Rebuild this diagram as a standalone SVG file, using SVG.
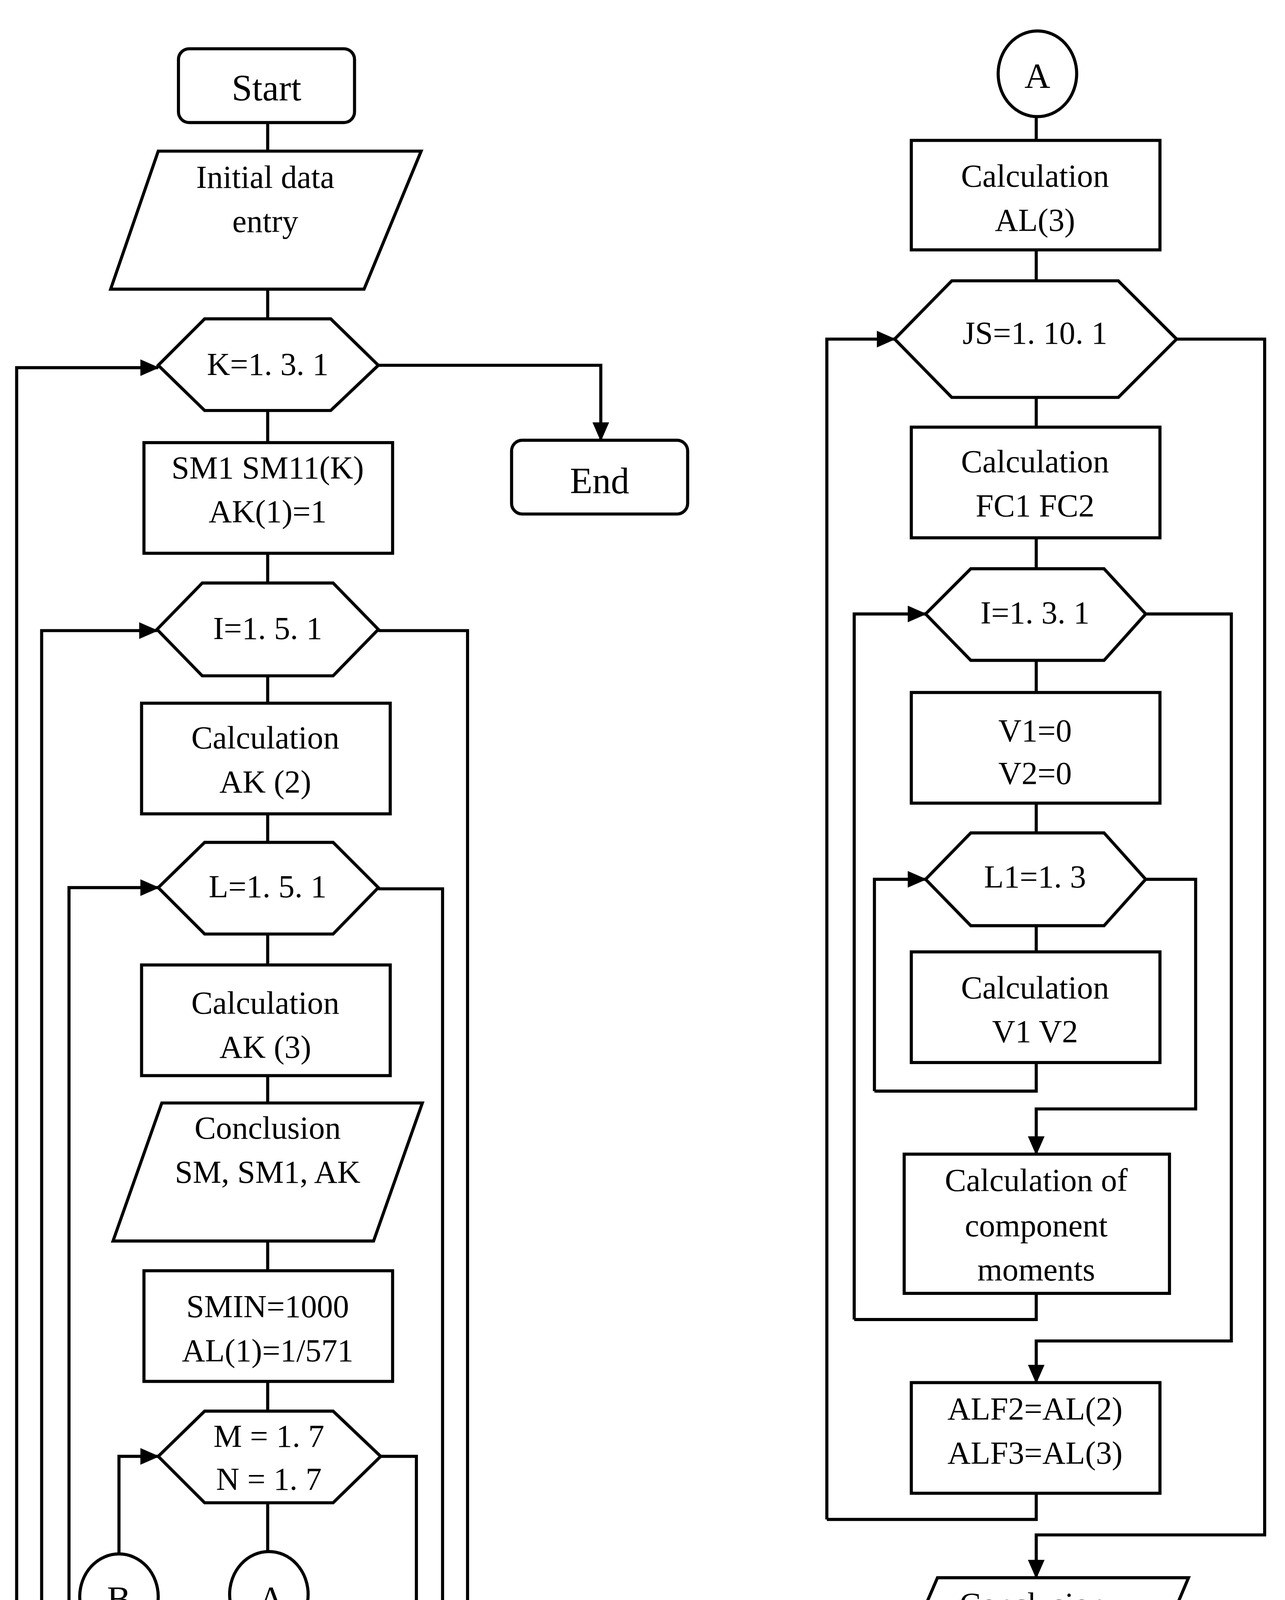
<svg xmlns="http://www.w3.org/2000/svg" width="3290" height="4790" viewBox="0 0 3290 4790">
<style>
.s{fill:#fff;stroke:#000;stroke-width:2.6;stroke-linejoin:miter}
.c{fill:none;stroke:#000;stroke-width:2.6}
.a{fill:none;stroke:#000;stroke-width:2.6;marker-end:url(#ah)}
text{font-family:"Liberation Serif","DejaVu Serif",serif;font-size:27px;fill:#000;text-anchor:middle;dominant-baseline:central}
</style>
<defs>
<marker id="ah" markerUnits="userSpaceOnUse" markerWidth="16" markerHeight="16" viewBox="0 0 16 16" refX="15" refY="8" orient="auto">
<path d="M0,1 L16,8 L0,15 Z" fill="#000"/>
</marker>
</defs>
<rect width="3290" height="4790" fill="#fff"/>
<g transform="scale(3.046)">
<g id="connectors">
<path class="c" d="M225,103V127M225,243V268M225,345V372M225,465V490M225,568V591M225,684V708M225,785V811M225,904V927M225,1043V1068M225,1161V1186M225,1263V1304"/>
<path class="a" d="M318,307H505V370"/>
<path class="a" d="M393,529H393M14,1465V309H133"/>
<path class="c" d="M14,1465H393V530H318"/>
<path class="a" d="M35,1441V530H132"/>
<path class="c" d="M35,1441H372V747H318"/>
<path class="a" d="M58,1420V746H133"/>
<path class="c" d="M58,1420H350V1224H320"/>
<path class="a" d="M100,1306V1224H133"/>
<path class="c" d="M871,97V118M871,210V236M871,334V359M871,452V478M871,555V582M871,675V700M871,778V800M871,1442V1483"/>
<path class="a" d="M695,1277V285H752"/>
<path class="c" d="M871,1255V1277H695"/>
<path class="a" d="M989,285H1063V1290H871V1326"/>
<path class="a" d="M718,1109V516H778"/>
<path class="c" d="M871,1087V1109H718"/>
<path class="a" d="M963,516H1035V1127H871V1162"/>
<path class="a" d="M735,917V739H778"/>
<path class="c" d="M871,893V917H735"/>
<path class="a" d="M963,739H1005V932H871V970"/>
</g>
<g id="start"><rect class="s" x="150" y="41" width="148" height="62" rx="9"/><text x="224" y="74" style="font-size:31px">Start</text></g>
<g id="input"><path class="s" d="M133,127H354L306,243H93Z"/><text x="223" y="149">Initial data</text><text x="223" y="186">entry</text></g>
<g id="loopK"><path class="s" d="M133,307L172,268H278L318,307L278,345H172Z"/><text x="225" y="306">K=1. 3. 1</text></g>
<g id="end"><rect class="s" x="430" y="370" width="148" height="62" rx="9"/><text x="504" y="404" style="font-size:31px">End</text></g>
<g id="sm1"><rect class="s" x="121" y="372" width="209" height="93"/><text x="225" y="393">SM1  SM11(K)</text><text x="225" y="430">AK(1)=1</text></g>
<g id="loopI"><path class="s" d="M132,529L170,490H280L318,529L280,568H170Z"/><text x="225" y="528">I=1. 5. 1</text></g>
<g id="calcAK2"><rect class="s" x="119" y="591" width="209" height="93"/><text x="223" y="620">Calculation</text><text x="223" y="657">AK (2)</text></g>
<g id="loopL"><path class="s" d="M133,746L172,708H280L318,746L280,785H172Z"/><text x="225" y="745">L=1. 5. 1</text></g>
<g id="calcAK3"><rect class="s" x="119" y="811" width="209" height="93"/><text x="223" y="843">Calculation</text><text x="223" y="880">AK (3)</text></g>
<g id="concl1"><path class="s" d="M136,927H355L314,1043H95Z"/><text x="225" y="948">Conclusion</text><text x="225" y="985">SM, SM1, AK</text></g>
<g id="smin"><rect class="s" x="121" y="1068" width="209" height="93"/><text x="225" y="1098">SMIN=1000</text><text x="225" y="1135">AL(1)=1/571</text></g>
<g id="loopM"><path class="s" d="M133,1224L172,1186H280L320,1224L280,1263H172Z"/><text x="226" y="1207">M = 1. 7</text><text x="226" y="1243">N = 1. 7</text></g>
<g id="connB1"><ellipse class="s" cx="100" cy="1342" rx="33" ry="36"/><text x="100" y="1344" style="font-size:30px">B</text></g>
<g id="connA1"><ellipse class="s" cx="226" cy="1340" rx="33" ry="36"/><text x="228" y="1344" style="font-size:30px">A</text></g>
<g id="connA2"><ellipse class="s" cx="872" cy="62" rx="33" ry="36"/><text x="872" y="64" style="font-size:30px">A</text></g>
<g id="calcAL3"><rect class="s" x="766" y="118" width="209" height="92"/><text x="870" y="148">Calculation</text><text x="870" y="185">AL(3)</text></g>
<g id="loopJS"><path class="s" d="M752,285L800,236H940L989,285L940,334H800Z"/><text x="870" y="280">JS=1. 10. 1</text></g>
<g id="calcFC"><rect class="s" x="766" y="359" width="209" height="93"/><text x="870" y="388">Calculation</text><text x="870" y="425">FC1  FC2</text></g>
<g id="loopI2"><path class="s" d="M778,516L816,478H928L963,516L928,555H816Z"/><text x="870" y="515">I=1. 3. 1</text></g>
<g id="v0"><rect class="s" x="766" y="582" width="209" height="93"/><text x="870" y="614">V1=0</text><text x="870" y="650">V2=0</text></g>
<g id="loopL1"><path class="s" d="M778,739L816,700H928L963,739L928,778H816Z"/><text x="870" y="737">L1=1. 3</text></g>
<g id="calcV"><rect class="s" x="766" y="800" width="209" height="93"/><text x="870" y="830">Calculation</text><text x="870" y="867">V1 V2</text></g>
<g id="calcMom"><rect class="s" x="760" y="970" width="223" height="117"/><text x="871" y="992">Calculation of</text><text x="871" y="1030">component</text><text x="871" y="1067">moments</text></g>
<g id="alf"><rect class="s" x="766" y="1162" width="209" height="93"/><text x="870" y="1184">ALF2=AL(2)</text><text x="870" y="1221">ALF3=AL(3)</text></g>
<g id="concl2"><path class="s" d="M788,1326H999L950,1442H738Z"/><text x="868" y="1348">Conclusion</text><text x="868" y="1385">ALF2 ALF3</text><text x="868" y="1422">RC</text></g>
<g id="connB2"><ellipse class="s" cx="870" cy="1519" rx="33" ry="36"/><text x="870" y="1521" style="font-size:30px">B</text></g>
</g>
</svg>
